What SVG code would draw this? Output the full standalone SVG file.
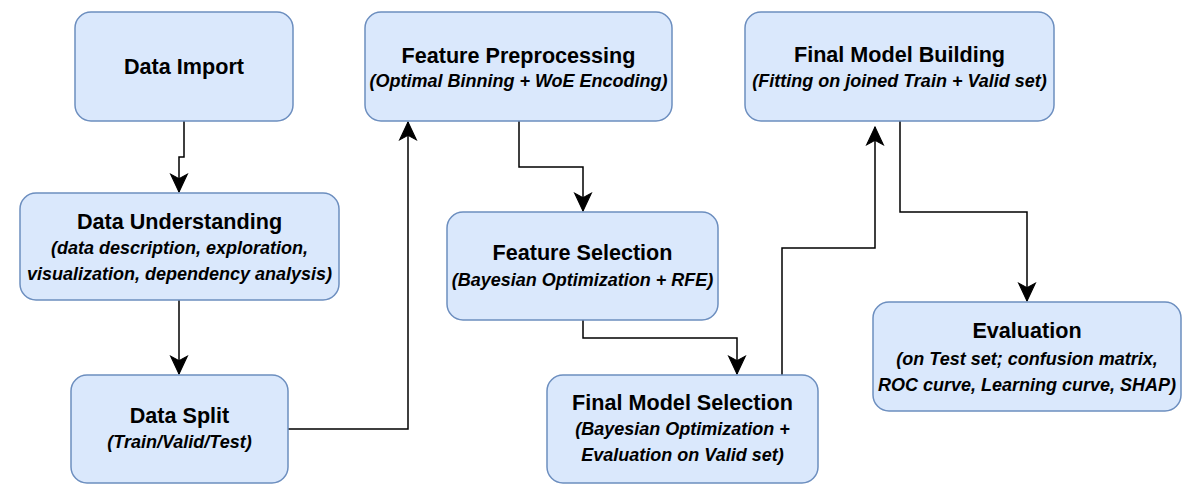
<svg xmlns="http://www.w3.org/2000/svg" width="1192" height="492" viewBox="0 0 1192 492">
  <style>
    .box { fill: #dae8fc; stroke: #6c8ebf; stroke-width: 1.5; }
    .t { font-family: "Liberation Sans", Arial, Helvetica, sans-serif; font-weight: bold; font-size: 21.6px; fill: #000; text-anchor: middle; }
    .s { font-family: "Liberation Sans", Arial, Helvetica, sans-serif; font-weight: bold; font-style: italic; font-size: 18px; fill: #000; text-anchor: middle; }
    .edge { fill: none; stroke: #000; stroke-width: 1.5; }
  </style>
  <defs>
    <marker id="arrow" markerUnits="userSpaceOnUse" markerWidth="20" markerHeight="20" viewBox="-17 -9 18 18" refX="0" refY="0" orient="auto">
      <path d="M0,0 L-16,-7.5 L-12,0 L-16,7.5 Z" fill="#000" stroke="#000" stroke-width="1"/>
    </marker>
  </defs>
  <rect width="1192" height="492" fill="#fff"/>

  <g id="connectors">
    <path class="edge" d="M184,121 V157 H179 V192" marker-end="url(#arrow)"/>
    <path class="edge" d="M179,300 V374" marker-end="url(#arrow)"/>
    <path class="edge" d="M288,429 H408 V122" marker-end="url(#arrow)"/>
    <path class="edge" d="M519,121 V167 H583 V211" marker-end="url(#arrow)"/>
    <path class="edge" d="M583,320 V338 H737 V374" marker-end="url(#arrow)"/>
    <path class="edge" d="M782,375 V248 H875 V127" marker-end="url(#arrow)"/>
    <path class="edge" d="M900,121 V212 H1027 V301" marker-end="url(#arrow)"/>
  </g>

  <g id="data-import">
    <rect class="box" x="75" y="12" width="218" height="109" rx="16"/>
    <text class="t" x="184" y="74">Data Import</text>
  </g>
  <g id="data-understanding">
    <rect class="box" x="20" y="193" width="319" height="107" rx="16"/>
    <text class="t" x="179.5" y="229">Data Understanding</text>
    <text class="s" x="179.5" y="254">(data description, exploration,</text>
    <text class="s" x="179.5" y="280">visualization, dependency analysis)</text>
  </g>
  <g id="data-split">
    <rect class="box" x="71" y="375" width="217" height="108" rx="16"/>
    <text class="t" x="179.5" y="423">Data Split</text>
    <text class="s" x="179.5" y="448">(Train/Valid/Test)</text>
  </g>
  <g id="feature-preprocessing">
    <rect class="box" x="365" y="12" width="307" height="109" rx="16"/>
    <text class="t" x="518.5" y="63">Feature Preprocessing</text>
    <text class="s" x="518.5" y="87">(Optimal Binning + WoE Encoding)</text>
  </g>
  <g id="feature-selection">
    <rect class="box" x="447" y="212" width="271" height="108" rx="16"/>
    <text class="t" x="582.5" y="260">Feature Selection</text>
    <text class="s" x="582.5" y="286">(Bayesian Optimization + RFE)</text>
  </g>
  <g id="final-model-selection">
    <rect class="box" x="547" y="375" width="271" height="108" rx="16"/>
    <text class="t" x="682.5" y="410">Final Model Selection</text>
    <text class="s" x="682.5" y="435">(Bayesian Optimization +</text>
    <text class="s" x="682.5" y="461">Evaluation on Valid set)</text>
  </g>
  <g id="final-model-building">
    <rect class="box" x="745" y="12" width="309" height="109" rx="16"/>
    <text class="t" x="899.5" y="62">Final Model Building</text>
    <text class="s" x="899.5" y="87">(Fitting on joined Train + Valid set)</text>
  </g>
  <g id="evaluation">
    <rect class="box" x="873" y="302" width="308" height="109" rx="16"/>
    <text class="t" x="1027" y="338">Evaluation</text>
    <text class="s" x="1027" y="365">(on Test set; confusion matrix,</text>
    <text class="s" x="1027" y="391">ROC curve, Learning curve, SHAP)</text>
  </g>
</svg>
